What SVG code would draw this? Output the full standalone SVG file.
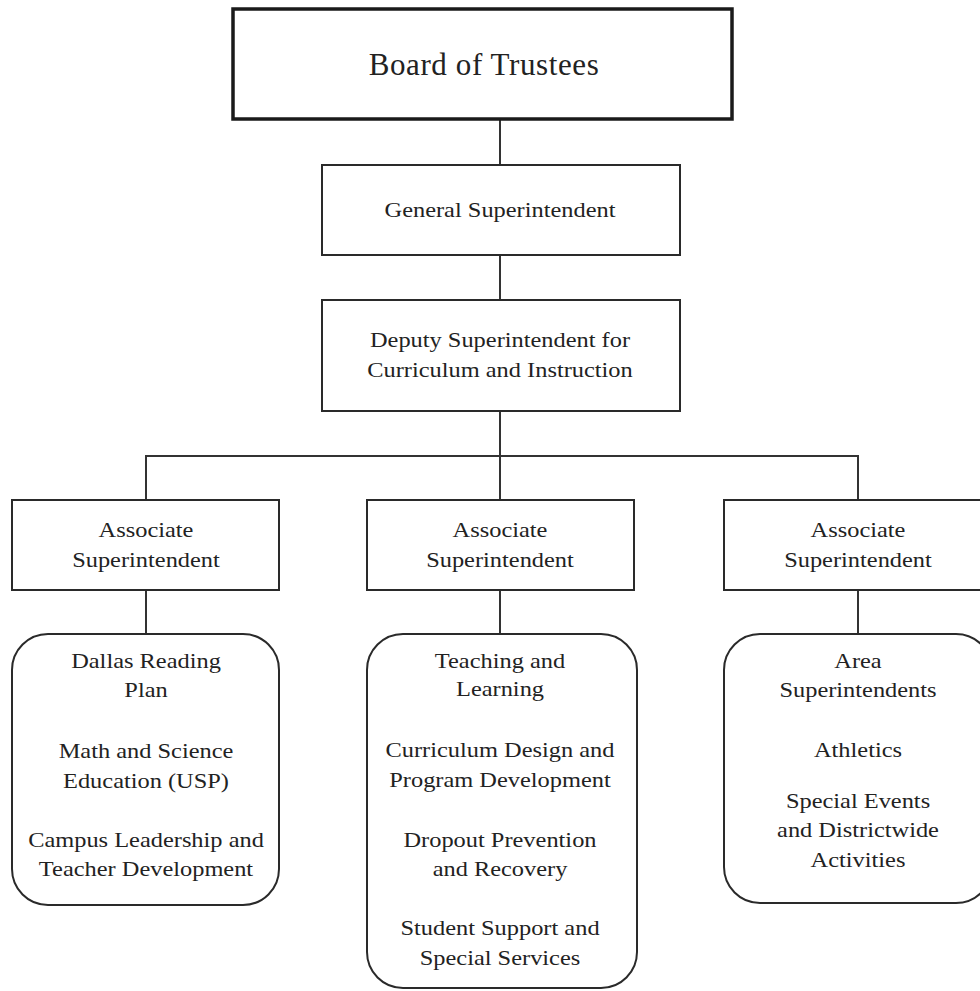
<svg xmlns="http://www.w3.org/2000/svg" width="980" height="991" viewBox="0 0 980 991">
  <style>
    .box { fill: #ffffff; stroke: #2a2a2a; stroke-width: 2; }
    .board { fill: #ffffff; stroke: #1a1a1a; stroke-width: 3.5; }
    .wire { fill: none; stroke: #333333; stroke-width: 2; }
    text { font-family: "Liberation Serif", "Times New Roman", serif; font-size: 20px; fill: #222222; text-anchor: middle; }
    .title { font-size: 31px; letter-spacing: 0.6px; }
  </style>
  <rect width="980" height="991" fill="#ffffff"/>

  <g id="connectors">
    <line class="wire" x1="500" y1="119" x2="500" y2="165"/>
    <line class="wire" x1="500" y1="255" x2="500" y2="300"/>
    <line class="wire" x1="500" y1="411" x2="500" y2="456"/>
    <polyline class="wire" points="146,500 146,456 858,456 858,500"/>
    <line class="wire" x1="500" y1="456" x2="500" y2="500"/>
    <line class="wire" x1="146" y1="590" x2="146" y2="634"/>
    <line class="wire" x1="500" y1="590" x2="500" y2="634"/>
    <line class="wire" x1="858" y1="590" x2="858" y2="634"/>
  </g>

  <g id="board">
    <rect class="board" x="233" y="9" width="499" height="110"/>
    <text class="title" x="484" y="75">Board of Trustees</text>
  </g>

  <g id="general">
    <rect class="box" x="322" y="165" width="358" height="90"/>
    <g transform="translate(500 0) scale(1.22 1)">
      <text x="0" y="217">General Superintendent</text>
    </g>
  </g>

  <g id="deputy">
    <rect class="box" x="322" y="300" width="358" height="111"/>
    <g transform="translate(500 0) scale(1.22 1)">
      <text x="0" y="347">Deputy Superintendent for</text>
      <text x="0" y="377">Curriculum and Instruction</text>
    </g>
  </g>

  <g id="assoc-left">
    <rect class="box" x="12" y="500" width="267" height="90"/>
    <g transform="translate(146 0) scale(1.22 1)">
      <text x="0" y="537">Associate</text>
      <text x="0" y="567">Superintendent</text>
    </g>
  </g>

  <g id="assoc-middle">
    <rect class="box" x="367" y="500" width="267" height="90"/>
    <g transform="translate(500 0) scale(1.22 1)">
      <text x="0" y="537">Associate</text>
      <text x="0" y="567">Superintendent</text>
    </g>
  </g>

  <g id="assoc-right">
    <rect class="box" x="724" y="500" width="268" height="90"/>
    <g transform="translate(858 0) scale(1.22 1)">
      <text x="0" y="537">Associate</text>
      <text x="0" y="567">Superintendent</text>
    </g>
  </g>

  <g id="programs-left">
    <rect class="box" x="12" y="634" width="267" height="271" rx="36" ry="36"/>
    <g transform="translate(146 0) scale(1.22 1)">
      <text x="0" y="668">Dallas Reading</text>
      <text x="0" y="697">Plan</text>
      <text x="0" y="758">Math and Science</text>
      <text x="0" y="788">Education (USP)</text>
      <text x="0" y="847">Campus Leadership and</text>
      <text x="0" y="876">Teacher Development</text>
    </g>
  </g>

  <g id="programs-middle">
    <rect class="box" x="367" y="634" width="270" height="354" rx="36" ry="36"/>
    <g transform="translate(500 0) scale(1.22 1)">
      <text x="0" y="668">Teaching and</text>
      <text x="0" y="696">Learning</text>
      <text x="0" y="757">Curriculum Design and</text>
      <text x="0" y="787">Program Development</text>
      <text x="0" y="847">Dropout Prevention</text>
      <text x="0" y="876">and Recovery</text>
      <text x="0" y="935">Student Support and</text>
      <text x="0" y="965">Special Services</text>
    </g>
  </g>

  <g id="programs-right">
    <rect class="box" x="724" y="634" width="268" height="269" rx="36" ry="36"/>
    <g transform="translate(858 0) scale(1.22 1)">
      <text x="0" y="668">Area</text>
      <text x="0" y="697">Superintendents</text>
      <text x="0" y="757">Athletics</text>
      <text x="0" y="808">Special Events</text>
      <text x="0" y="837">and Districtwide</text>
      <text x="0" y="867">Activities</text>
    </g>
  </g>
</svg>
